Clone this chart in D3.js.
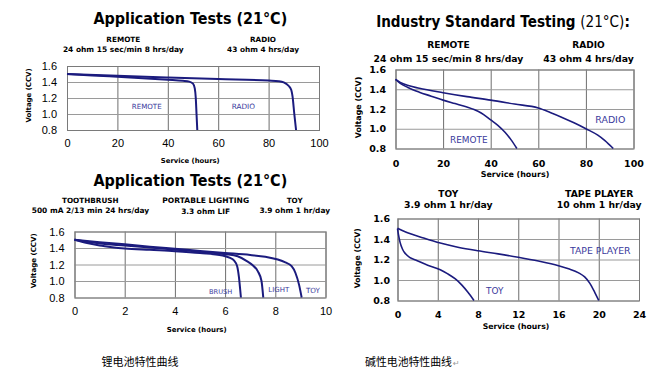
<!DOCTYPE html>
<html><head><meta charset="utf-8">
<script src="https://cdn.jsdelivr.net/npm/d3@7"></script>
<style>body{margin:0;background:#fff} svg{display:block}</style>
</head><body><svg id="c" width="660" height="377"></svg>
<script>
// ---------- data ----------
const voltTicks = [0.8, 1.0, 1.2, 1.4, 1.6];
const hourTicks100 = [0, 20, 40, 60, 80, 100];
const hourTicks10 = [0, 2, 4, 6, 8, 10];
const hourTicks24 = [0, 4, 8, 12, 16, 20, 24];

// Lithium – application tests (REMOTE / RADIO)
const liRemote = [[0,1.5],[10,1.482],[20,1.465],[30,1.448],[40,1.428],[46,1.415],[48.5,1.405],[50,1.38],[50.7,1.32],[51.1,1.2],[51.4,1.0],[51.7,0.8]];
const liRadio = [[0,1.5],[20,1.477],[40,1.456],[60,1.436],[80,1.418],[84,1.41],[86,1.395],[88,1.35],[89,1.30],[89.5,1.22],[90.2,1.0],[90.9,0.8]];
// Lithium – application tests (BRUSH / LIGHT / TOY)
const liBrush = [[0,1.5],[0.5,1.46],[1,1.43],[1.5,1.41],[2,1.395],[3,1.378],[4,1.362],[5,1.34],[5.9,1.31],[6.2,1.28],[6.35,1.25],[6.48,1.18],[6.55,1.05],[6.6,0.9],[6.63,0.8]];
const liLight = [[0,1.5],[1,1.455],[2,1.43],[3,1.405],[4,1.38],[5,1.355],[6,1.325],[6.5,1.3],[6.85,1.245],[7.1,1.19],[7.3,1.12],[7.45,1.0],[7.52,0.8]];
const liToy = [[0,1.5],[1,1.47],[2,1.445],[3,1.415],[4,1.39],[5,1.365],[6,1.34],[7,1.315],[7.6,1.295],[8.1,1.26],[8.4,1.225],[8.65,1.18],[8.8,1.1],[8.95,0.95],[9.05,0.8]];
// Alkaline – industry standard (REMOTE / RADIO)
const alkRemote = [[0,1.5],[2,1.46],[5,1.42],[10,1.37],[15,1.33],[20,1.29],[25,1.255],[30,1.22],[33,1.195],[36,1.16],[40,1.09],[43,1.035],[46,0.965],[48.5,0.89],[51,0.8]];
const alkRadio = [[0,1.5],[2,1.47],[5,1.44],[10,1.41],[20,1.365],[30,1.325],[40,1.29],[50,1.25],[60,1.21],[65,1.165],[70,1.115],[75,1.06],[80,1.0],[85,0.935],[88,0.88],[91.5,0.8]];
// Alkaline – TOY / TAPE PLAYER
const alkToy = [[0,1.5],[0.1,1.44],[0.25,1.37],[0.5,1.3],[0.8,1.255],[1.2,1.22],[1.8,1.195],[3,1.145],[4.25,1.1],[5,1.06],[5.75,1.01],[6.4,0.95],[7,0.88],[7.6,0.8]];
const alkTape = [[0,1.505],[1,1.46],[2.25,1.42],[4.25,1.36],[6,1.32],[8,1.285],[10,1.255],[12,1.222],[14,1.185],[16,1.14],[17,1.11],[18,1.07],[18.6,1.03],[19.1,0.97],[19.6,0.88],[20,0.8]];

// ---------- drawing ----------
const svg = d3.select('#c');
const LINE = '#1b1b7e', LBL = '#3a3a9c';
const BOLD = "'DejaVu Sans', Verdana, sans-serif";

function fit(sel, w){
  const L = sel.node().getComputedTextLength();
  const fs = parseFloat(sel.attr('font-size'));
  if (L > 0) sel.attr('font-size', fs * w / L);
  return sel;
}
// keep font size (height), squeeze horizontally to width w
function squeeze(sel, cx, y, w){
  const L = sel.node().getComputedTextLength();
  sel.attr('x', 0).attr('y', 0).attr('text-anchor', 'middle')
    .attr('transform', `translate(${cx},${y}) scale(${L > 0 ? w / L : 1},1)`);
  return sel;
}
function txt(x, y, s, w, o = {}){
  const t = svg.append('text').attr('x', x).attr('y', y).text(s)
    .attr('text-anchor', o.anchor || 'middle')
    .attr('font-family', o.family || BOLD)
    .attr('font-weight', o.weight || 'bold')
    .attr('font-size', o.size || 10)
    .attr('fill', o.fill || '#000');
  if (w) fit(t, w);
  return t;
}

function panel(o){
  const x = d3.scaleLinear().domain(o.xd).range([o.l, o.r]);
  const y = d3.scaleLinear().domain([0.8, 1.6]).range([o.b, o.t]);
  const g = svg.append('g');
  const tf = o.tickFamily, tw = o.tickWeight, ts = o.tickSize;

  const ax = g.append('g').attr('transform', `translate(0,${o.b})`)
    .call(d3.axisBottom(x).tickValues(o.xt).tickFormat(d3.format('d'))
      .tickSize(-(o.b - o.t)).tickPadding(o.xpad));
  const ay = g.append('g').attr('transform', `translate(${o.l},0)`)
    .call(d3.axisLeft(y).tickValues(voltTicks).tickFormat(d3.format('.1f'))
      .tickSize(-(o.r - o.l)).tickPadding(o.ypad));
  [ax, ay].forEach(a => {
    a.select('.domain').remove();
    a.selectAll('text').attr('font-family', tf).attr('font-weight', tw)
      .attr('font-size', ts).attr('fill', '#000');
  });
  ax.selectAll('line').attr('stroke', '#6e6e6e');
  ay.selectAll('line').attr('stroke', '#9a9a9a');
  g.append('rect').attr('x', o.l + 0.5).attr('y', o.t + 0.5)
    .attr('width', o.r - o.l).attr('height', o.b - o.t)
    .attr('fill', 'none').attr('stroke', '#7a7a7a');

  const line = d3.line().x(d => x(d[0])).y(d => y(d[1])).curve(d3.curveMonotoneX);
  o.series.forEach(s => {
    g.append('path').datum(s).attr('d', line).attr('fill', 'none')
      .attr('stroke', LINE).attr('stroke-width', o.lw).attr('stroke-linejoin', 'round');
  });
}

// Panel 1: lithium REMOTE / RADIO
panel({l:67, r:319, t:66, b:130, xd:[0,100], xt:hourTicks100, series:[liRemote, liRadio], lw:2,
  tickFamily:"'Liberation Sans', Arial, sans-serif", tickWeight:'normal', tickSize:11, xpad:9.5, ypad:10});
// Panel 2: alkaline REMOTE / RADIO
panel({l:395.5, r:633.5, t:69.5, b:148.5, xd:[0,100], xt:hourTicks100, series:[alkRemote, alkRadio], lw:1.6,
  tickFamily:BOLD, tickWeight:'bold', tickSize:9.5, xpad:11.5, ypad:9.5});
// Panel 3: lithium BRUSH / LIGHT / TOY
panel({l:74.5, r:325.5, t:231.5, b:297.5, xd:[0,10], xt:hourTicks10, series:[liBrush, liLight, liToy], lw:2,
  tickFamily:"'Liberation Sans', Arial, sans-serif", tickWeight:'normal', tickSize:11, xpad:10, ypad:10});
// Panel 4: alkaline TOY / TAPE PLAYER
panel({l:397.5, r:639, t:218.5, b:300.5, xd:[0,24], xt:hourTicks24, series:[alkToy, alkTape], lw:1.6,
  tickFamily:BOLD, tickWeight:'bold', tickSize:9.5, xpad:10.5, ypad:7.5});

// Titles
squeeze(txt(0, 0, 'Application Tests (21°C)', null, {size:16.5}), 190.3, 24, 194);
squeeze(txt(0, 0, 'Application Tests (21°C)', null, {size:16.5}), 190.3, 186, 194);
{
  const t = svg.append('text').attr('font-family', BOLD).attr('font-size', 16).attr('fill', '#000');
  t.append('tspan').attr('font-weight', 'bold').text('Industry Standard Testing ');
  t.append('tspan').attr('font-weight', 'normal').text('(21°C)');
  t.append('tspan').attr('font-weight', 'bold').text(':');
  squeeze(t, 503, 26.5, 254);
}

// Sub-titles
txt(123.3, 41.7, 'REMOTE', 34, {size:8});
txt(123.3, 52, '24 ohm 15 sec/min 8 hrs/day', 121, {size:8});
txt(263, 41.7, 'RADIO', 26, {size:8});
txt(263, 52, '43 ohm 4 hrs/day', 72, {size:8});

txt(448.5, 48, 'REMOTE', 42.7, {size:10});
txt(448.5, 61.5, '24 ohm 15 sec/min 8 hrs/day', 150, {size:10});
txt(588.5, 48, 'RADIO', 32.5, {size:10});
txt(588.5, 61.5, '43 ohm 4 hrs/day', 90.7, {size:10});

txt(90.3, 203.3, 'TOOTHBRUSH', 56.7, {size:8});
txt(90.5, 213.3, '500 mA 2/13 min 24 hrs/day', 117.6, {size:8});
txt(205.7, 203.3, 'PORTABLE LIGHTING', 87, {size:8});
txt(205.6, 214, '3.3 ohm LIF', 49, {size:8});
txt(294.7, 203.3, 'TOY', 16, {size:8});
txt(294.7, 213.3, '3.9 ohm 1 hr/day', 70.7, {size:8});

txt(448.3, 196.5, 'TOY', 20, {size:10});
txt(448.3, 208.3, '3.9 ohm 1 hr/day', 88.7, {size:10});
txt(599.2, 196.5, 'TAPE PLAYER', 68.3, {size:10});
txt(599.2, 208.3, '10 ohm 1 hr/day', 85, {size:10});

// Axis titles
txt(190.3, 163, 'Service (hours)', 59, {size:8});
txt(515, 177, 'Service (hours)', 68.7, {size:9});
txt(196.7, 332, 'Service (hours)', 60, {size:8});
txt(516, 328.5, 'Service (hours)', 66.7, {size:9});
[[30.5, 95.5, 54.3, 8], [360.5, 107.5, 61.7, 9], [35.5, 260.8, 55, 8], [360.3, 258.3, 60, 9]].forEach(([xb, cy, w, s]) => {
  const t = txt(0, 0, 'Voltage (CCV)', w, {size:s});
  t.attr('transform', `translate(${xb},${cy}) rotate(-90)`);
});

// Curve labels
const REG = {weight:'normal', fill:LBL};
txt(146.7, 109, 'REMOTE', 30, {...REG, size:8});
txt(243.3, 109, 'RADIO', 23.3, {...REG, size:8});
txt(468.8, 142.5, 'REMOTE', 37.7, {...REG, size:10});
txt(610.3, 122.5, 'RADIO', 30, {...REG, size:10});
txt(220.7, 293.7, 'BRUSH', 23.3, {...REG, size:8});
txt(278.8, 292.3, 'LIGHT', 21, {...REG, size:8});
txt(313, 292.7, 'TOY', 14, {...REG, size:8});
txt(600.3, 253.5, 'TAPE PLAYER', 60.7, {...REG, size:10});
txt(494.7, 293.5, 'TOY', 17.3, {...REG, size:10});

// Chinese captions
const CJK = "'Noto Sans CJK SC', sans-serif";
txt(140, 366, '锂电池特性曲线', 77, {family:CJK, weight:'normal', size:11});
txt(408.5, 366, '碱性电池特性曲线', 87, {family:CJK, weight:'normal', size:11});
txt(453, 366, '↵', null, {family:BOLD, weight:'normal', size:8, anchor:'start', fill:'#999'});
</script></body></html>
